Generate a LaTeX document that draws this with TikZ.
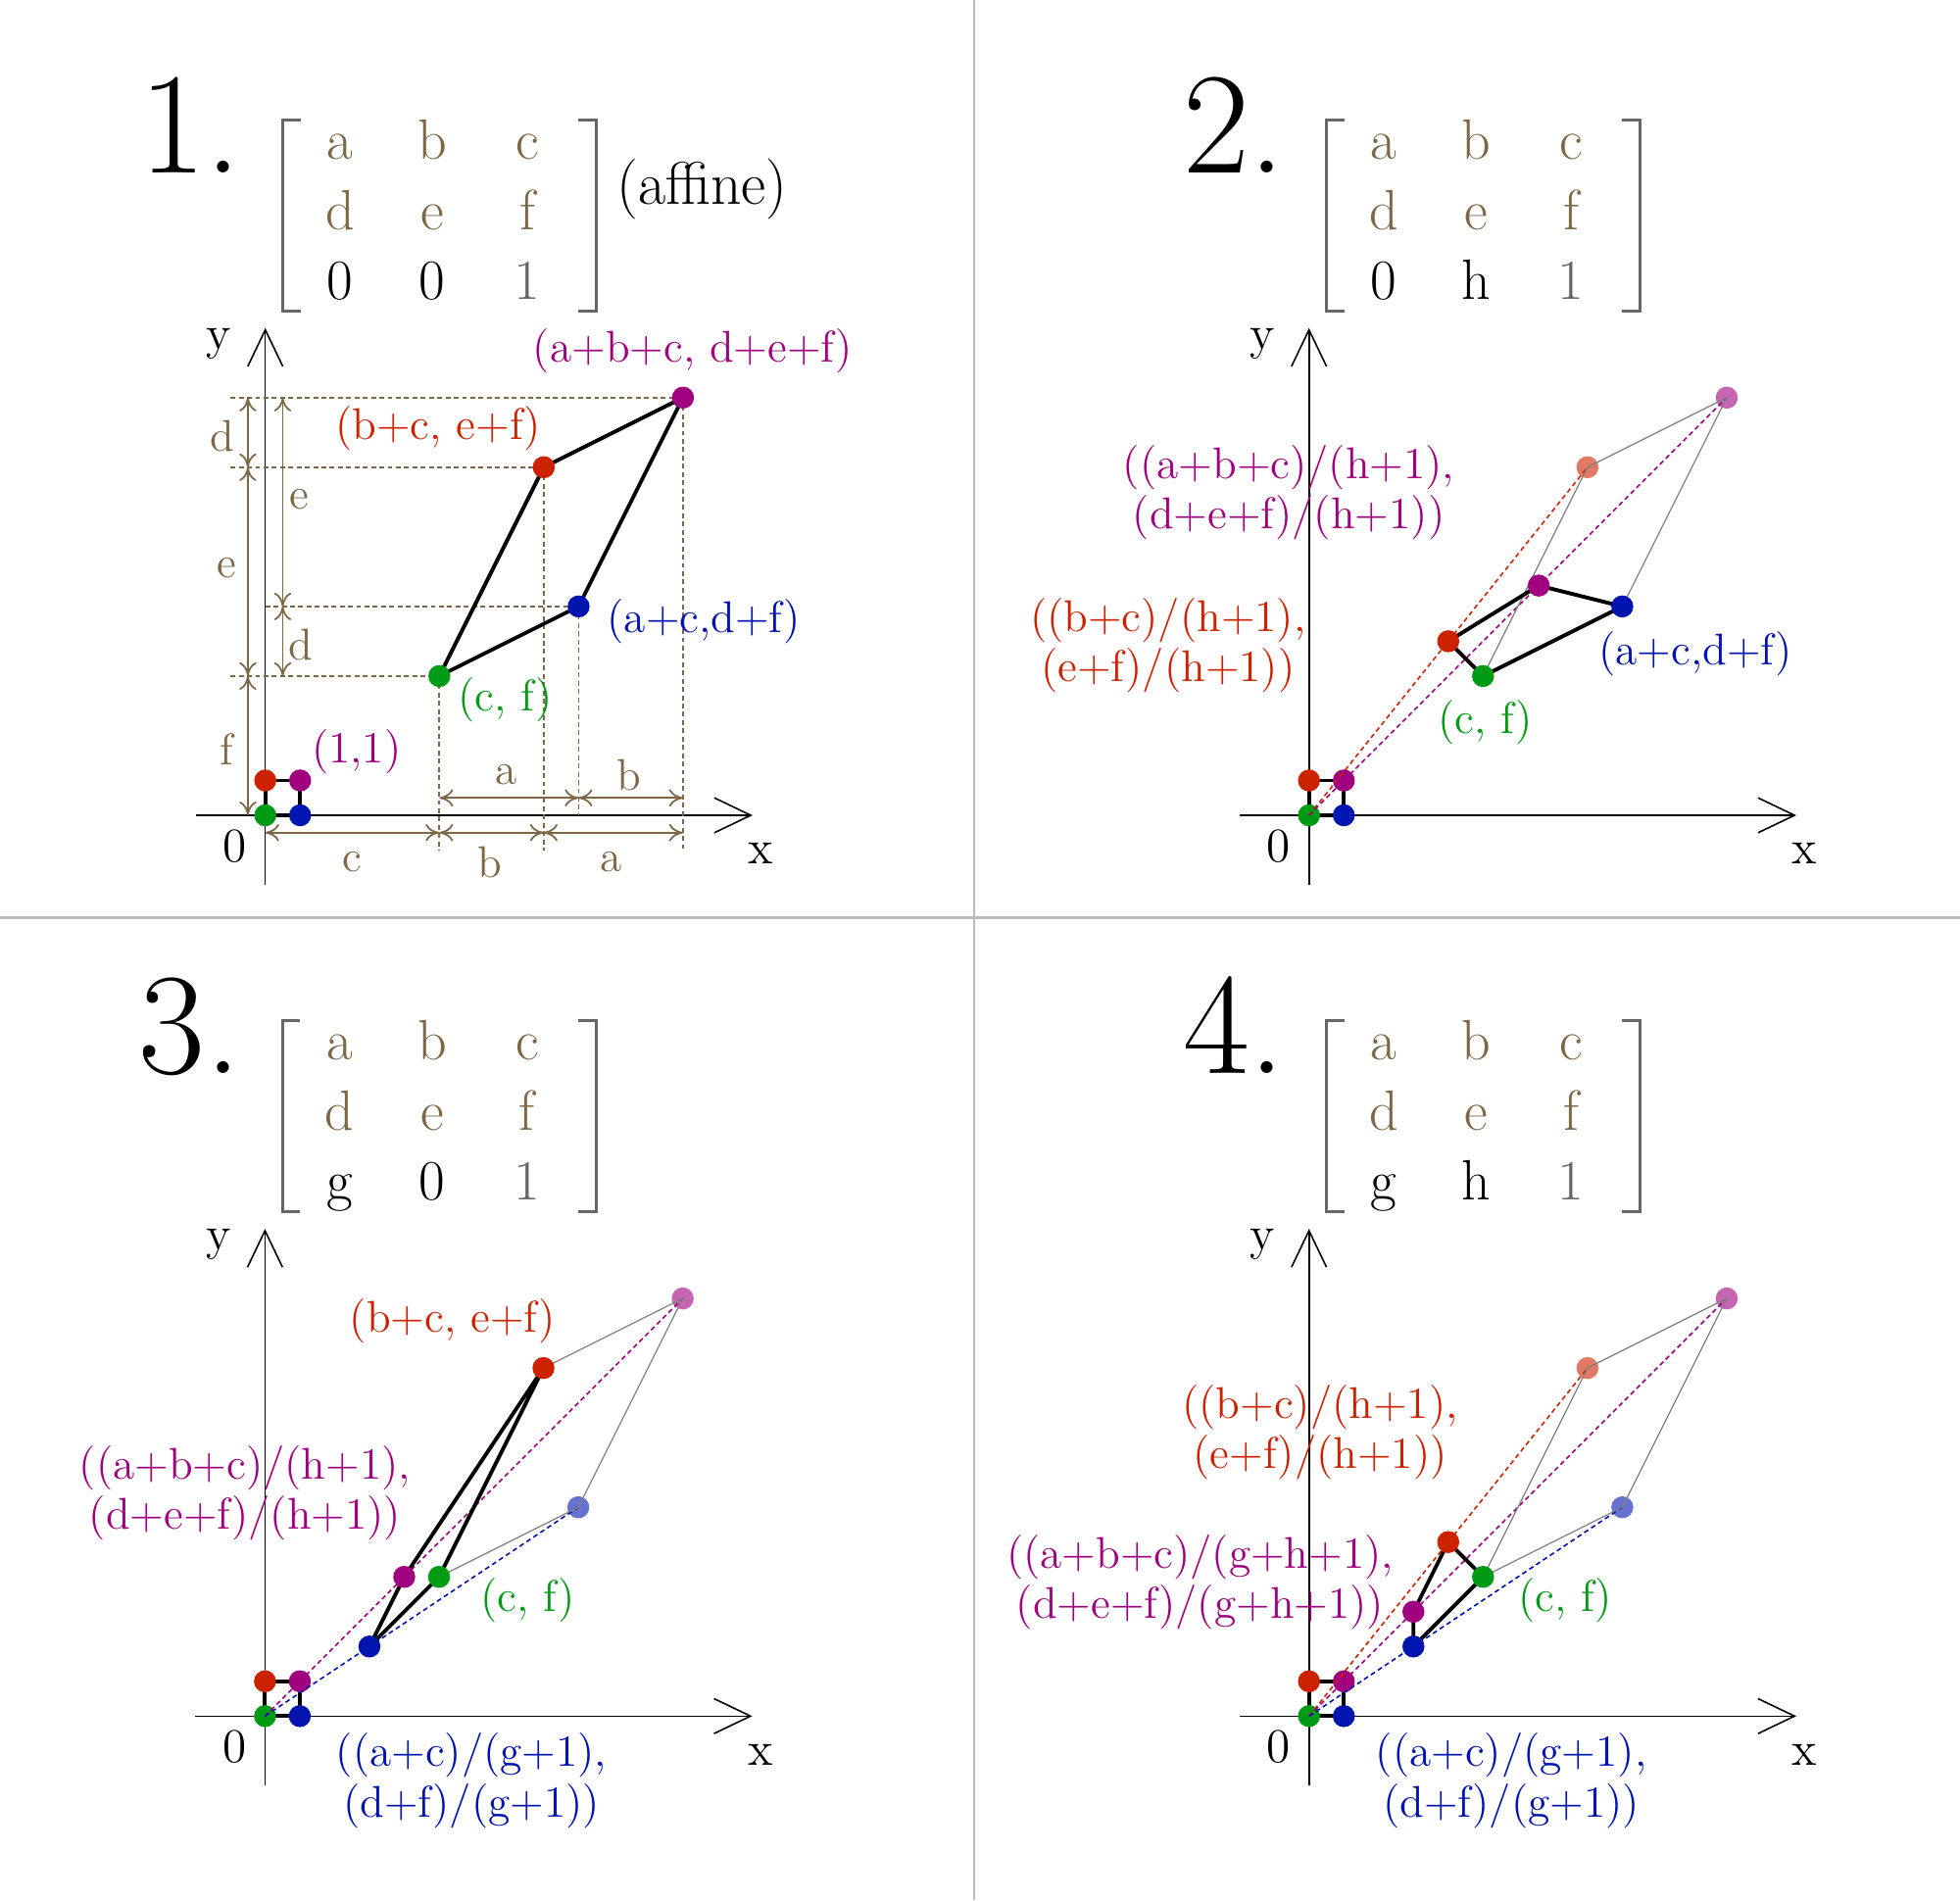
\documentclass[tikz,border=0pt]{standalone}
\usepackage{fontspec}
\usetikzlibrary{arrows.meta}
\definecolor{brn}{RGB}{125,103,68}
\definecolor{rd}{RGB}{204,34,0}
\definecolor{mg}{RGB}{160,0,128}
\definecolor{gn}{RGB}{0,155,20}
\definecolor{bl}{RGB}{0,20,175}
\definecolor{brk}{RGB}{102,102,102}
\definecolor{divc}{RGB}{187,187,187}
\tikzset{
 divider/.style={draw=divc, line width=0.8pt},
 axisline/.style={line width=0.45pt, -{Straight Barb[length=0.373cm,width=0.357cm]}},
 edge/.style={line width=1.1pt, line join=round, line cap=round},
 guide/.style={brn, line width=0.5pt, dash pattern=on 1.4pt off 1pt},
 dim/.style={brn, line width=0.5pt, {To[length=4pt,width=5pt]}-{To[length=4pt,width=5pt]}},
 faint/.style={gray, line width=0.35pt},
 dashc/.style={line width=0.45pt, dash pattern=on 1.4pt off 1pt},
 dot/.style={circle, inner sep=0pt, minimum size=0.225cm},
 lbl/.style={font=\fontsize{12.9}{14.6}\selectfont, inner sep=0pt, align=center},
 axlbl/.style={font=\fontsize{14}{16}\selectfont, inner sep=0pt},
 mtx/.style={font=\fontsize{16.5}{19}\selectfont, inner sep=0pt, anchor=base},
 bignum/.style={font=\fontsize{42}{48}\selectfont, inner sep=0pt, anchor=base west},
 bracket/.style={brk, line width=0.76pt},
}
\newcommand{\panelframe}[3]{%
  \node[bignum] (num#1) at (-3.64,18.46) {#1.};
  \node[mtx,text=brn] (a#1) at (2.15,18.85) {a};
  \node[mtx,text=brn] (b#1) at (4.80,18.85) {b};
  \node[mtx,text=brn] (c#1) at (7.53,18.85) {c};
  \node[mtx,text=brn] (d#1) at (2.15,16.83) {d};
  \node[mtx,text=brn] (e#1) at (4.80,16.83) {e};
  \node[mtx,text=brn] (f#1) at (7.53,16.83) {f};
  \node[mtx] (g#1) at (2.15,14.82) {#2};
  \node[mtx] (h#1) at (4.80,14.82) {#3};
  \node[mtx,text=brk] (one#1) at (7.53,14.82) {1};
  \draw[bracket] (1.01,19.98) -- (0.5,19.98) -- (0.5,14.49) -- (1.01,14.49);
  \draw[bracket] (9.0,19.98) -- (9.51,19.98) -- (9.51,14.49) -- (9.0,14.49);
  \draw[axisline] (-2,0) -- (14,0);
  \draw[axisline] (0,-2) -- (0,14);
  \node[axlbl] (xl#1) at (14.23,-1.1) {x};
  \node[axlbl] (yl#1) at (-1.34,13.55) {y};
  \node[axlbl] (zl#1) at (-0.87,-0.89) {0};
  \coordinate (O#1) at (0,0);
  \coordinate (X#1) at (1,0);
  \coordinate (Y#1) at (0,1);
  \coordinate (XY#1) at (1,1);
  \draw[edge] (O#1) -- (X#1) -- (XY#1) -- (Y#1) -- cycle;
  \node[dot,fill=gn] (dO#1) at (O#1) {};
  \node[dot,fill=bl] (dX#1) at (X#1) {};
  \node[dot,fill=rd] (dY#1) at (Y#1) {};
  \node[dot,fill=mg] (dXY#1) at (XY#1) {};
}
\begin{document}
\begin{tikzpicture}[x=0.01cm,y=-0.01cm]
\fill[white] (0,0) rectangle (2000,1939);
\useasboundingbox (0,0) rectangle (2000,1939);
\draw[divider] (994,0) -- (994,1939);
\draw[divider] (0,936.7) -- (2000,936.7);

% ---------- Panel 1
\begin{scope}[shift={(270.7,832)}, x=0.355cm, y=0.355cm]
  \panelframe{1}{0}{0}
  \node[font=\fontsize{17.5}{20}\selectfont, inner sep=0pt] (aff) at (12.55,17.98) {(affine)};
  \coordinate (G1) at (5,4);
  \coordinate (B1) at (9,6);
  \coordinate (R1) at (8,10);
  \coordinate (M1) at (12,12);
  \draw[guide] (-1,12) -- (M1);
  \draw[guide] (-1,10) -- (R1);
  \draw[guide] (0,6) -- (B1);
  \draw[guide] (-1,4) -- (G1);
  \draw[guide] (G1) -- (5,-1);
  \draw[guide] (R1) -- (8,-1);
  \draw[guide] (B1) -- (9,0);
  \draw[guide] (M1) -- (12,-1);
  \draw[dim] (0,-0.5) -- (5,-0.5);
  \draw[dim] (5,-0.5) -- (8,-0.5);
  \draw[dim] (8,-0.5) -- (12,-0.5);
  \draw[dim] (5,0.5) -- (9,0.5);
  \draw[dim] (9,0.5) -- (12,0.5);
  \draw[dim] (-0.5,0) -- (-0.5,4);
  \draw[dim] (-0.5,4) -- (-0.5,10);
  \draw[dim] (-0.5,10) -- (-0.5,12);
  \draw[dim] (0.5,4) -- (0.5,6);
  \draw[dim] (0.5,6) -- (0.5,12);
  \node[lbl,text=brn] (lc) at (2.5,-1.35) {c};
  \node[lbl,text=brn] (lb) at (6.46,-1.35) {b};
  \node[lbl,text=brn] (la) at (9.94,-1.35) {a};
  \node[lbl,text=brn] (la2) at (6.93,1.16) {a};
  \node[lbl,text=brn] (lb2) at (10.45,1.16) {b};
  \node[lbl,text=brn] (lf) at (-1.12,1.9) {f};
  \node[lbl,text=brn] (le) at (-1.12,7.1) {e};
  \node[lbl,text=brn] (ld) at (-1.23,10.9) {d};
  \node[lbl,text=brn] (ld2) at (1.03,4.9) {d};
  \node[lbl,text=brn] (le2) at (0.97,9.07) {e};
  \draw[edge] (G1) -- (B1) -- (M1) -- (R1) -- cycle;
  \node[dot,fill=gn] (dG1) at (G1) {};
  \node[dot,fill=bl] (dB1) at (B1) {};
  \node[dot,fill=rd] (dR1) at (R1) {};
  \node[dot,fill=mg] (dM1) at (M1) {};
  \node[lbl,text=mg] (t11) at (2.62,1.82) {(1,1)};
  \node[lbl,text=gn] (tcf1) at (6.9,3.33) {(c, f)};
  \node[lbl,text=bl] (tb1) at (12.6,5.58) {(a+c,d+f)};
  \node[lbl,text=rd] (tr1) at (4.97,11.11) {(b+c, e+f)};
  \node[lbl,text=mg] (tm1) at (12.28,13.34) {(a+b+c, d+e+f)};
\end{scope}

% ---------- Panel 2
\begin{scope}[shift={(1335.7,832)}, x=0.355cm, y=0.355cm]
  \panelframe{2}{0}{h}
  \coordinate (G2) at (5,4);
  \coordinate (B2) at (9,6);
  \coordinate (R2) at (4,5);
  \coordinate (M2) at (6.6,6.6);
  \coordinate (Rf2) at (8,10);
  \coordinate (Mf2) at (12,12);
  \node[dot,fill=rd,fill opacity=0.6] (dRf2) at (Rf2) {};
  \node[dot,fill=mg,fill opacity=0.6] (dMf2) at (Mf2) {};
  \draw[dashc,rd] (O2) -- (Rf2);
  \draw[dashc,mg] (O2) -- (Mf2);
  \draw[faint] (G2) -- (Rf2) -- (Mf2) -- (B2);
  \draw[edge] (G2) -- (B2) -- (M2) -- (R2) -- cycle;
  \node[dot,fill=gn] (dG2) at (G2) {};
  \node[dot,fill=bl] (dB2) at (B2) {};
  \node[dot,fill=rd] (dR2) at (R2) {};
  \node[dot,fill=mg] (dM2) at (M2) {};
  \node[lbl,text=mg] (tm2) at (-0.58,9.28) {((a+b+c)/(h+1),\\(d+e+f)/(h+1))};
  \node[lbl,text=rd] (tr2) at (-4.05,4.88) {((b+c)/(h+1),\\(e+f)/(h+1))};
  \node[lbl,text=bl] (tb2) at (11.1,4.65) {(a+c,d+f)};
  \node[lbl,text=gn] (tcf2) at (5.06,2.67) {(c, f)};
\end{scope}

% ---------- Panel 3
\begin{scope}[shift={(270.4,1751.3)}, x=0.355cm, y=0.355cm]
  \panelframe{3}{g}{0}
  \coordinate (G3) at (5,4);
  \coordinate (R3) at (8,10);
  \coordinate (B3) at (3,2);
  \coordinate (M3) at (4,4);
  \coordinate (Mf3) at (12,12);
  \coordinate (Bf3) at (9,6);
  \node[dot,fill=mg,fill opacity=0.6] (dMf3) at (Mf3) {};
  \node[dot,fill=bl,fill opacity=0.6] (dBf3) at (Bf3) {};
  \draw[dashc,mg] (O3) -- (Mf3);
  \draw[dashc,bl] (O3) -- (Bf3);
  \draw[faint] (R3) -- (Mf3) -- (Bf3) -- (G3);
  \draw[edge] (G3) -- (B3) -- (M3) -- (R3) -- cycle;
  \node[dot,fill=gn] (dG3) at (G3) {};
  \node[dot,fill=bl] (dB3) at (B3) {};
  \node[dot,fill=rd] (dR3) at (R3) {};
  \node[dot,fill=mg] (dM3) at (M3) {};
  \node[lbl,text=rd] (tr3) at (5.39,11.36) {(b+c, e+f)};
  \node[lbl,text=mg] (tm3) at (-0.575,6.41) {((a+b+c)/(h+1),\\(d+e+f)/(h+1))};
  \node[lbl,text=gn] (tcf3) at (7.55,3.34) {(c, f)};
  \node[lbl,text=bl] (tb3) at (5.93,-1.85) {((a+c)/(g+1),\\(d+f)/(g+1))};
\end{scope}

% ---------- Panel 4
\begin{scope}[shift={(1335.7,1751.3)}, x=0.355cm, y=0.355cm]
  \panelframe{4}{g}{h}
  \coordinate (G4) at (5,4);
  \coordinate (R4) at (4,5);
  \coordinate (M4) at (3,3);
  \coordinate (B4) at (3,2);
  \coordinate (Rf4) at (8,10);
  \coordinate (Mf4) at (12,12);
  \coordinate (Bf4) at (9,6);
  \node[dot,fill=rd,fill opacity=0.6] (dRf4) at (Rf4) {};
  \node[dot,fill=mg,fill opacity=0.6] (dMf4) at (Mf4) {};
  \node[dot,fill=bl,fill opacity=0.6] (dBf4) at (Bf4) {};
  \draw[dashc,rd] (O4) -- (Rf4);
  \draw[dashc,mg] (O4) -- (Mf4);
  \draw[dashc,bl] (O4) -- (Bf4);
  \draw[faint] (G4) -- (Rf4) -- (Mf4) -- (Bf4) -- (G4);
  \draw[edge] (G4) -- (R4) -- (M4) -- (B4) -- cycle;
  \node[dot,fill=gn] (dG4) at (G4) {};
  \node[dot,fill=bl] (dB4) at (B4) {};
  \node[dot,fill=rd] (dR4) at (R4) {};
  \node[dot,fill=mg] (dM4) at (M4) {};
  \node[lbl,text=rd] (tr4) at (0.32,8.16) {((b+c)/(h+1),\\(e+f)/(h+1))};
  \node[lbl,text=mg] (tm4) at (-3.13,3.85) {((a+b+c)/(g+h+1),\\(d+e+f)/(g+h+1))};
  \node[lbl,text=gn] (tcf4) at (7.36,3.34) {(c, f)};
  \node[lbl,text=bl] (tb4) at (5.81,-1.85) {((a+c)/(g+1),\\(d+f)/(g+1))};
\end{scope}
\end{tikzpicture}
\end{document}
